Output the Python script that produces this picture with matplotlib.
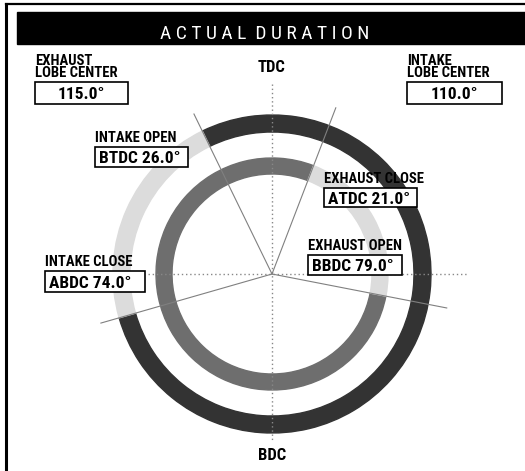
import math
import matplotlib
matplotlib.use("Agg")
from matplotlib import pyplot as plt
from matplotlib import font_manager
from matplotlib.patches import Wedge, Rectangle

# valve events (degrees) and lobe centers
event_names = ["INTAKE OPEN", "INTAKE CLOSE", "EXHAUST OPEN", "EXHAUST CLOSE"]
event_refs = ["BTDC", "ABDC", "BBDC", "ATDC"]
event_deg = [26.0, 74.0, 79.0, 21.0]
lobe_names = ["EXHAUST\nLOBE CENTER", "INTAKE\nLOBE CENTER"]
lobe_deg = [115.0, 110.0]
title = "A C T U A L  D U R A T I O N"

# pick the narrowest family that is installed
installed = {f.name for f in font_manager.fontManager.ttflist}
candidates = ["Liberation Sans Narrow", "Roboto Condensed", "Noto Sans Condensed",
              "Open Sans Condensed", "Roboto", "Liberation Sans", "DejaVu Sans"]
FONT = [c for c in candidates if c in installed][0]
plt.rcParams["font.family"] = [FONT, "DejaVu Sans"]


def crank(ref, deg):
    # crank angle clockwise from TDC
    return {"BTDC": -deg, "ATDC": deg, "BBDC": 180 - deg, "ABDC": 180 + deg}[ref]


ang = {n: crank(r, d) for n, r, d in zip(event_names, event_refs, event_deg)}

fig = plt.figure(figsize=(5.25, 4.71), dpi=100)
ax = fig.add_axes([0, 0, 1, 1])
ax.set_xlim(0, 525)
ax.set_ylim(471, 0)
ax.axis("off")

cx, cy = 272, 274
r_out, w_out = 159, 17
r_in, w_in = 116, 16

# frame and title bar
ax.plot([6, 6], [4, 471], color="black", lw=2.2)
ax.plot([6, 525], [4, 4], color="black", lw=1.6)
ax.add_patch(Rectangle((17, 12), 508, 32, color="black"))
ax.text(265, 39, title, color="white", ha="center", va="baseline", fontsize=14)

# dotted axes
ax.plot([cx, cx], [84, 442], color="#888888", lw=1.0, ls=(0, (1, 2)))
ax.plot([148, 468], [cy, cy], color="#888888", lw=1.0, ls=(0, (1, 2)))

# outer ring = intake, inner ring = exhaust (data angle = crank - 90, y is flipped)
io, ic = ang["INTAKE OPEN"], ang["INTAKE CLOSE"]
eo, ec = ang["EXHAUST OPEN"], ang["EXHAUST CLOSE"] + 360
ax.add_patch(Wedge((cx, cy), r_out, io - 90, ic - 90, width=w_out, color="#333333"))
ax.add_patch(Wedge((cx, cy), r_out, ic - 90, io + 360 - 90, width=w_out, color="#dcdcdc"))
ax.add_patch(Wedge((cx, cy), r_in, eo - 90, ec - 90, width=w_in, color="#6e6e6e"))
ax.add_patch(Wedge((cx, cy), r_in, ec - 90, eo + 360 - 90, width=w_in, color="#dcdcdc"))

# radial event lines
for n in event_names:
    a = math.radians(ang[n])
    L = 178
    ax.plot([cx, cx + L * math.sin(a)], [cy, cy - L * math.cos(a)], color="#808080", lw=0.8)

ax.text(cx, 72, "TDC", ha="center", va="baseline", fontsize=12, fontweight="bold")
ax.text(cx, 460, "BDC", ha="center", va="baseline", fontsize=12, fontweight="bold")


def box(x0, y0, x1, y1, label, value, center=False, lsize=10.5):
    ax.text(x0, y0 - 5, label, ha="left", va="baseline", fontsize=lsize, fontweight="bold",
            linespacing=0.8, zorder=4)
    ax.add_patch(Rectangle((x0, y0), x1 - x0, y1 - y0, fc="white", ec="black", lw=1.2,
                           zorder=3))
    yb = (y0 + y1) / 2 + 6
    if center:
        ax.text((x0 + x1) / 2, yb, value, ha="center", va="baseline",
                fontsize=12.5, fontweight="bold", zorder=4)
    else:
        ax.text(x0 + 4, yb, value, ha="left", va="baseline",
                fontsize=12.5, fontweight="bold", zorder=4)


box(35, 82, 128, 104, lobe_names[0], f"{lobe_deg[0]:.1f}°", center=True)
box(407, 82, 502, 104, lobe_names[1], f"{lobe_deg[1]:.1f}°", center=True)

pos = {
    "INTAKE OPEN": (95, 147, 188, 167),
    "EXHAUST CLOSE": (324, 188, 417, 207),
    "EXHAUST OPEN": (308, 255, 402, 275),
    "INTAKE CLOSE": (45, 271, 145, 292),
}
for n, r, d in zip(event_names, event_refs, event_deg):
    x0, y0, x1, y1 = pos[n]
    box(x0, y0, x1, y1, n, f"{r} {d:.1f}°")

fig.savefig("out.png", dpi=100, facecolor="white")
